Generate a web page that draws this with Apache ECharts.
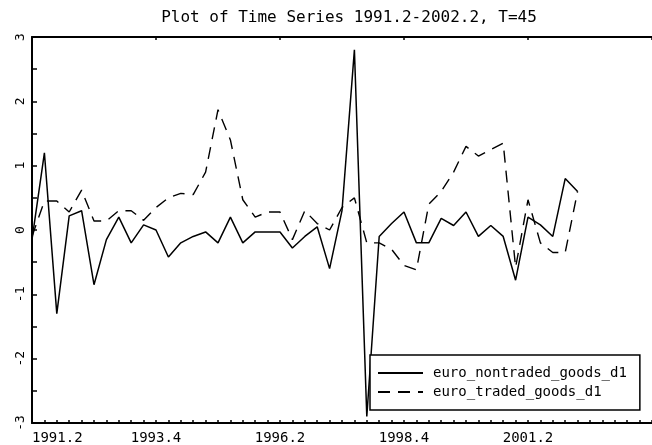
<!DOCTYPE html>
<html>
<head>
<meta charset="utf-8">
<script src="https://cdn.jsdelivr.net/npm/echarts@6/dist/echarts.min.js"></script>
<style>
  html, body { margin: 0; padding: 0; background: #fff; }
  #chart { width: 652px; height: 445px; }
</style>
</head>
<body>
<div id="chart"></div>
<script>
// Quarterly periods 1991.2 .. 2002.2 (T = 45), x position = quarter index
const tickLabels = ['1991.2', '1993.4', '1996.2', '1998.4', '2001.2'];
const tickIndex = [0, 10, 20, 30, 40];

const nontradedLabel = 'euro_nontraded_goods_d1';
const tradedLabel = 'euro_traded_goods_d1';

const nontraded = [
  -0.15, 1.2, -1.3, 0.22, 0.3, -0.85, -0.15, 0.2, -0.2, 0.08,
  0.0, -0.42, -0.2, -0.1, -0.03, -0.2, 0.2, -0.2, -0.03, -0.03,
  -0.03, -0.28, -0.1, 0.05, -0.6, 0.3, 2.8, -2.9, -0.1, 0.1,
  0.28, -0.2, -0.2, 0.18, 0.07, 0.28, -0.1, 0.07, -0.1, -0.78,
  0.2, 0.08, -0.1, 0.8, 0.6
];

const traded = [
  -0.1, 0.45, 0.45, 0.28, 0.62, 0.14, 0.14, 0.3, 0.3, 0.15,
  0.35, 0.5, 0.57, 0.55, 0.9, 1.87, 1.4, 0.47, 0.2, 0.28,
  0.28, -0.15, 0.3, 0.1, 0.0, 0.35, 0.5, -0.2, -0.2, -0.3,
  -0.55, -0.62, 0.4, 0.6, 0.9, 1.3, 1.15, 1.25, 1.35, -0.58,
  0.47, -0.2, -0.35, -0.35, 0.6
];

const FONT = 'DejaVu Sans Mono';
const toXY = arr => arr.map((v, i) => [i, v]);

const chart = echarts.init(document.getElementById('chart'), null, { renderer: 'canvas' });

chart.setOption({
  animation: false,
  backgroundColor: '#fff',
  title: {
    text: 'Plot of Time Series 1991.2-2002.2, T=45',
    left: 344,
    top: 5,
    textAlign: 'center',
    textStyle: { fontFamily: FONT, fontSize: 16, fontWeight: 'normal', color: '#000' }
  },
  grid: { left: 32, right: -5, top: 37, bottom: 22, containLabel: false },
  legend: {
    orient: 'vertical',
    left: 370,
    top: 355,
    padding: [11, 13, 11, 7],
    itemWidth: 45,
    itemHeight: 14,
    itemGap: 5,
    borderColor: '#000',
    borderWidth: 1.5,
    backgroundColor: '#fff',
    itemStyle: { opacity: 0 },
    textStyle: { fontFamily: FONT, fontSize: 14, color: '#000', padding: [0, 0, 0, 5] },
    data: [nontradedLabel, tradedLabel]
  },
  xAxis: [
    {
      type: 'value',
      position: 'bottom',
      min: 0,
      max: 50,
      interval: 10,
      axisLine: { onZero: false, lineStyle: { color: '#000', width: 2 } },
      axisTick: { inside: true, length: 3, lineStyle: { color: '#000', width: 1.5 } },
      minorTick: { show: true, splitNumber: 10, length: 3, lineStyle: { color: '#000', width: 1.5 } },
      splitLine: { show: false },
      axisLabel: {
        showMaxLabel: false,
        alignMinLabel: 'left',
        margin: 8,
        fontFamily: FONT,
        fontSize: 14,
        color: '#000',
        formatter: v => {
          const k = tickIndex.indexOf(v);
          return k >= 0 ? tickLabels[k] : '';
        }
      }
    },
    {
      type: 'value',
      position: 'top',
      min: 0,
      max: 50,
      interval: 10,
      axisLine: { onZero: false, lineStyle: { color: '#000', width: 2 } },
      axisTick: { inside: true, length: 3, lineStyle: { color: '#000', width: 1.5 } },
      splitLine: { show: false },
      axisLabel: { show: false }
    }
  ],
  yAxis: {
    type: 'value',
    min: -3,
    max: 3,
    interval: 1,
    axisLine: { show: true, onZero: false, lineStyle: { color: '#000', width: 2 } },
    axisTick: { show: true, inside: true, length: 5, lineStyle: { color: '#000', width: 1.5 } },
    minorTick: { show: true, splitNumber: 2, length: 5, lineStyle: { color: '#000', width: 1.5 } },
    splitLine: { show: false },
    axisLabel: {
      rotate: 90,
      margin: 5,
      fontFamily: FONT,
      fontSize: 13,
      color: '#000'
    }
  },
  series: [
    {
      name: nontradedLabel,
      type: 'line',
      xAxisIndex: 0,
      data: toXY(nontraded),
      symbol: 'none',
      lineStyle: { color: '#000', width: 1.5, type: 'solid' },
      itemStyle: { color: '#000' }
    },
    {
      name: tradedLabel,
      type: 'line',
      xAxisIndex: 0,
      data: toXY(traded),
      symbol: 'none',
      lineStyle: { color: '#000', width: 1.4, type: [12, 8] },
      itemStyle: { color: '#000' }
    }
  ]
});
</script>
</body>
</html>
